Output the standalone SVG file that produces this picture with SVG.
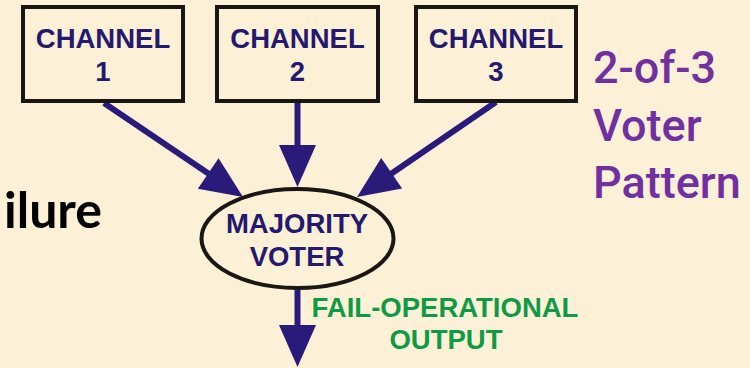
<svg xmlns="http://www.w3.org/2000/svg" width="750" height="368" viewBox="0 0 750 368">
  <defs>
    <style>
      .box { fill: none; stroke: #1a1614; stroke-width: 4; }
      .oval { fill: none; stroke: #1a1614; stroke-width: 4; }
      .lbl { font-family: "Liberation Sans", Arial, sans-serif; font-weight: bold; font-size: 27.5px; fill: #24186f; text-anchor: middle; }
      .wire { stroke: #2a1a7a; stroke-width: 6; fill: none; }
      .head { fill: #2a1a7a; }
      .out { font-family: "Liberation Sans", Arial, sans-serif; font-weight: bold; font-size: 27.5px; fill: #0f9a45; text-anchor: middle; }
      .title { font-family: Roboto, "Noto Sans", sans-serif; font-weight: 500; font-size: 45px; fill: #7030a0; }
      .side { font-family: Lato, "Open Sans", sans-serif; font-weight: bold; font-size: 50px; fill: #000000; }
    </style>
    <!-- arrowhead pointing along +x, tip at origin -->
    <polygon id="ah" points="0,0 -42,-18.5 -42,18.5" />
  </defs>

  <rect x="0" y="0" width="750" height="368" fill="#fcf1d6"/>

  <!-- connectors -->
  <g id="connectors">
    <line class="wire" x1="104" y1="103" x2="215" y2="178"/>
    <use href="#ah" class="head" transform="translate(243,197) rotate(34.07)"/>
    <line class="wire" x1="297.5" y1="103" x2="297.5" y2="150"/>
    <use href="#ah" class="head" transform="translate(297.5,187) rotate(90)"/>
    <line class="wire" x1="496" y1="102" x2="385" y2="178"/>
    <use href="#ah" class="head" transform="translate(357,197) rotate(145.6)"/>
    <line class="wire" x1="297.5" y1="290" x2="297.5" y2="330"/>
    <use href="#ah" class="head" transform="translate(297.5,367) rotate(90)"/>
  </g>

  <g id="channel1">
    <rect class="box" x="23" y="7" width="160" height="94"/>
    <text class="lbl" x="103" y="48">CHANNEL</text>
    <text class="lbl" x="103" y="81">1</text>
  </g>
  <g id="channel2">
    <rect class="box" x="217" y="7" width="161" height="94"/>
    <text class="lbl" x="297.5" y="48">CHANNEL</text>
    <text class="lbl" x="297.5" y="81">2</text>
  </g>
  <g id="channel3">
    <rect class="box" x="416" y="7" width="160" height="94"/>
    <text class="lbl" x="496" y="48">CHANNEL</text>
    <text class="lbl" x="496" y="81">3</text>
  </g>

  <g id="voter">
    <ellipse class="oval" cx="297.5" cy="238.5" rx="96" ry="49.5"/>
    <text class="lbl" x="297" y="233">MAJORITY</text>
    <text class="lbl" x="297" y="266">VOTER</text>
  </g>

  <g id="output-label">
    <text class="out" x="445" y="317">FAIL-OPERATIONAL</text>
    <text class="out" x="446" y="349">OUTPUT</text>
  </g>

  <g id="pattern-title">
    <text class="title" x="593" y="83">2-of-3</text>
    <text class="title" x="593" y="141">Voter</text>
    <text class="title" x="593" y="198">Pattern</text>
  </g>

  <text class="side" x="4" y="228">ilure</text>
</svg>
